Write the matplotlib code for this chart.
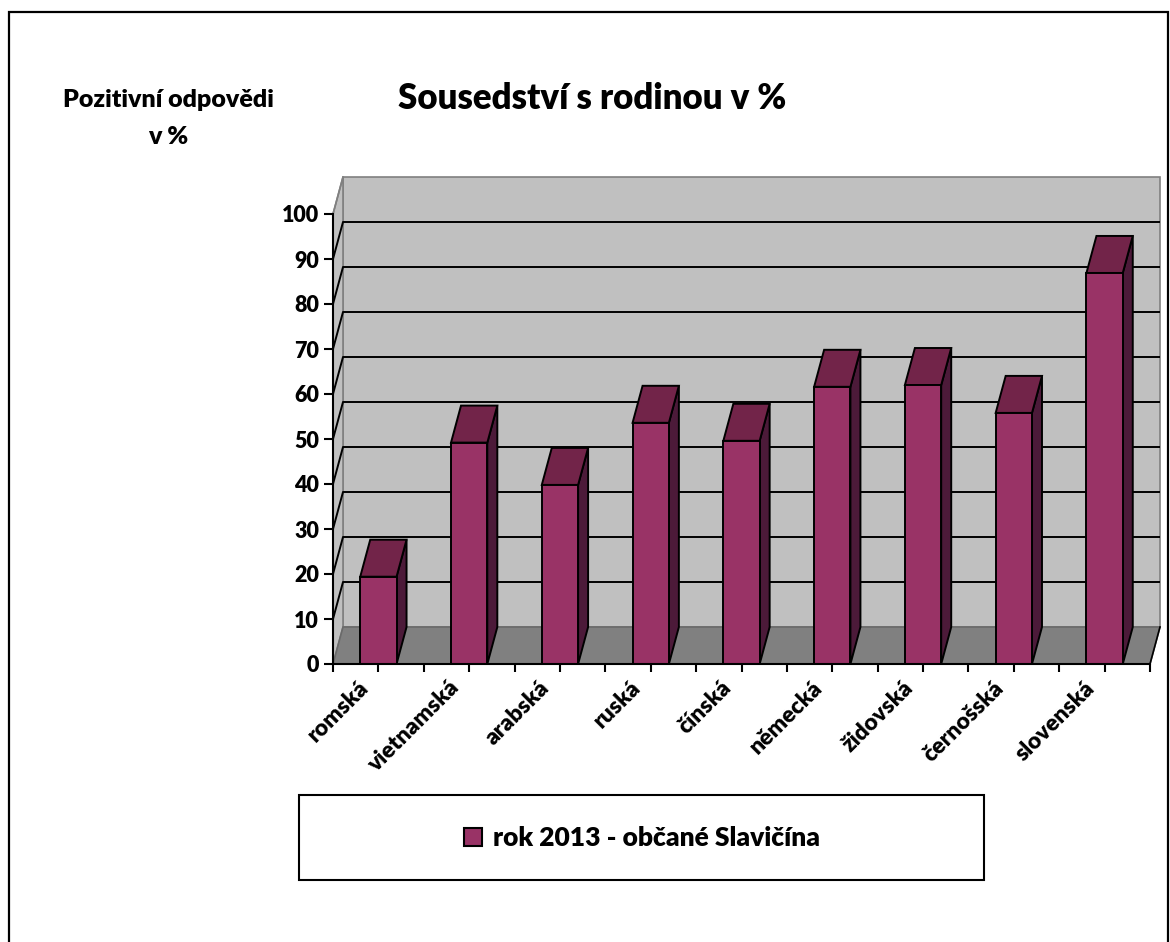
import matplotlib
matplotlib.use("Agg")
import matplotlib.pyplot as plt
from matplotlib.patches import Polygon, Rectangle
from matplotlib.transforms import ScaledTranslation

plt.rcParams['font.family'] = ['Lato', 'DejaVu Sans']
WT = 800

# data
categories = ['romská', 'vietnamská', 'arabská', 'ruská', 'čínská',
              'německá', 'židovská', 'černošská', 'slovenská']
values = [19.4, 49.2, 39.8, 53.6, 49.6, 61.6, 62.0, 55.8, 86.9]
series_name = 'rok 2013 - občané Slavičína'
yticks = list(range(0, 101, 10))

W, H = 1170, 942
fig = plt.figure(figsize=(W / 100, H / 100), dpi=100)

# plot area (front plane) in pixels
left, right, top, bottom = 333, 1150, 214, 664
ax = fig.add_axes([left / W, 1 - bottom / H, (right - left) / W, (bottom - top) / H])
n = len(categories)
ax.set_xlim(0, n)
ax.set_ylim(0, 100)

# 3d depth offset in data units (10 px right, 37 px up)
DX = 10 / ((right - left) / n)
DY = 37 / ((bottom - top) / 100)

front = '#993366'
topc = '#722449'
sidec = '#4C1A39'
wall = '#C0C0C0'
floorc = '#808080'

# walls and floor
ax.add_patch(Polygon([(DX, DY), (n + DX, DY), (n + DX, 100 + DY), (DX, 100 + DY)],
                     closed=True, fc=wall, ec='#808080', lw=1.2, clip_on=False, zorder=0))
ax.add_patch(Polygon([(0, 0), (DX, DY), (DX, 100 + DY), (0, 100)],
                     closed=True, fc=wall, ec='#808080', lw=1.2, clip_on=False, zorder=0))

for v in yticks[1:-1]:
    ax.plot([0, DX, n + DX], [v, v + DY, v + DY], color='black', lw=1.4,
            clip_on=False, zorder=0.5, solid_capstyle='butt')
ax.plot([0, DX], [100, 100 + DY], color='#808080', lw=1.2, clip_on=False, zorder=0.5)

ax.add_patch(Polygon([(0, 0), (n, 0), (n + DX, DY), (DX, DY)],
                     closed=True, fc=floorc, ec='#6A6A6A', lw=1.2, clip_on=False, zorder=0.8))
ax.plot([n, n + DX], [0, DY], color='black', lw=1.2, clip_on=False, zorder=0.9)

# bars
bw = 0.4
for i, v in enumerate(values):
    x0 = i + 0.5 - bw / 2
    ax.add_patch(Polygon([(x0 + bw, 0), (x0 + bw + DX, DY), (x0 + bw + DX, v + DY), (x0 + bw, v)],
                         closed=True, fc=sidec, ec='black', lw=1.4, clip_on=False, zorder=2))
    ax.add_patch(Polygon([(x0, v), (x0 + bw, v), (x0 + bw + DX, v + DY), (x0 + DX, v + DY)],
                         closed=True, fc=topc, ec='black', lw=1.4, clip_on=False, zorder=2))
    ax.add_patch(Rectangle((x0, 0), bw, v, fc=front, ec='black', lw=1.4,
                           clip_on=False, zorder=2.1))

# axes lines and ticks
for s in ['top', 'right']:
    ax.spines[s].set_visible(False)
for s in ['left', 'bottom']:
    ax.spines[s].set_linewidth(1.5)
    ax.spines[s].set_zorder(3)
ax.patch.set_visible(False)

ax.set_yticks(yticks)
ax.set_yticklabels([str(t) for t in yticks], fontsize=15.5, fontweight=WT)
ax.tick_params(axis='y', direction='out', length=6.5, width=1.5, pad=3.5)

ax.set_xticks([i + 0.5 for i in range(n)])
ax.set_xticks(list(range(n + 1)), minor=True)
ax.set_xticklabels(categories, fontsize=16.5, fontweight=WT, rotation=45,
                   ha='right', va='top', rotation_mode='anchor')
ax.tick_params(axis='x', which='both', direction='out', length=5.5, width=1.5)
ax.tick_params(axis='x', which='major', pad=4)
shift = ScaledTranslation(-21 / 100, 0, fig.dpi_scale_trans)
for lab in ax.get_xticklabels():
    lab.set_transform(lab.get_transform() + shift)

# texts
fig.text(592 / W, 1 - 109 / H, 'Sousedství s rodinou v %', fontsize=25,
         fontweight=WT, ha='center', va='baseline')
fig.text(168 / W, 1 - 107 / H, 'Pozitivní odpovědi', fontsize=18,
         fontweight=WT, ha='center', va='baseline')
fig.text(168 / W, 1 - 144 / H, 'v %', fontsize=18,
         fontweight=WT, ha='center', va='baseline')

# legend box
fig.patches.append(Rectangle((299 / W, 1 - 880 / H), (984 - 299) / W, (880 - 795) / H,
                             transform=fig.transFigure, fc='white', ec='black', lw=1.5))
handle = Rectangle((0, 0), 1, 1, fc=front, ec='black', lw=1.5)
fig.legend([handle], [series_name], loc='center', bbox_to_anchor=(642 / W, 1 - 838 / H),
           frameon=False, prop={'size': 19, 'weight': WT},
           handlelength=0.7, handleheight=0.7, handletextpad=0.4)

# outer chart border
fig.patches.append(Rectangle((9 / W, -0.05), (1168 - 9) / W, 1 - 12 / H + 0.05,
                             transform=fig.transFigure, fill=False, ec='black', lw=1.6))

fig.savefig('out.png', dpi=100)
